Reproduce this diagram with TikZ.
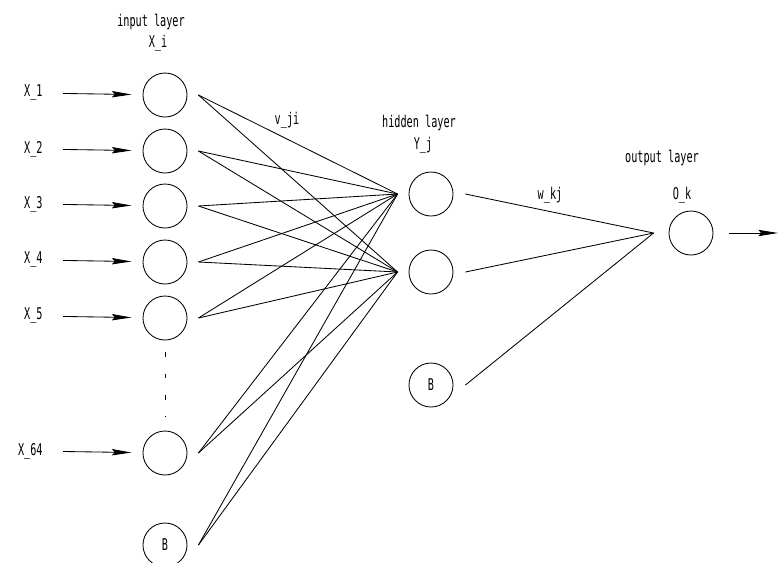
\documentclass[tikz,border=0pt]{standalone}
\usepackage{fontspec}
\newfontfamily\cadfont[FakeStretch=0.63]{DejaVu Sans Mono}
\usetikzlibrary{arrows.meta}

\begin{document}
\begin{tikzpicture}[x=0.025cm, y=-0.025cm, >={Stealth[length=14pt, width=4.5pt, inset=2pt]}, line width=0.6pt, neuron/.style={circle, draw, minimum size=1.1cm, inner sep=0pt, font=\cadfont\fontsize{11.5}{13}\selectfont}, tag/.style={font=\cadfont\fontsize{11.5}{13}\selectfont, inner sep=0pt}]
	\useasboundingbox (0,0) rectangle (778,562);
	% input layer
	\node[neuron] (I1) at (165,95) {};
	\node[neuron] (I2) at (165,151) {};
	\node[neuron] (I3) at (165,206) {};
	\node[neuron] (I4) at (165,262) {};
	\node[neuron] (I5) at (165,318) {};
	\node[neuron] (I64) at (165,453) {};
	\node[neuron] (IB) at (165,545) {B};
	% hidden layer
	\node[neuron] (H1) at (431,194) {};
	\node[neuron] (H2) at (431,272) {};
	\node[neuron] (HB) at (431,385) {B};
	% output layer
	\node[neuron] (O) at (691,233) {};
	% texts
	\node[tag] (inlayer) at (151,22) {input layer};
	\node[tag] (Xi) at (158,43) {X\_i};
	\node[tag] (vji) at (287,120) {v\_ji};
	\node[tag] (hidlayer) at (419,123) {hidden layer};
	\node[tag] (Yj) at (423,145) {Y\_j};
	\node[tag] (wkj) at (550,195) {w\_kj};
	\node[tag] (outlayer) at (662,158) {output layer};
	\node[tag] (Ok) at (682,195) {O\_k};
	\node[tag, anchor=east] (x1) at (43,93) {X\_1};
	\node[tag, anchor=east] (x2) at (43,149) {X\_2};
	\node[tag, anchor=east] (x3) at (43,204) {X\_3};
	\node[tag, anchor=east] (x4) at (43,260) {X\_4};
	\node[tag, anchor=east] (x5) at (43,316) {X\_5};
	\node[tag, anchor=east] (x64) at (43,451) {X\_64};
	% ends of the weight lines
	\coordinate (I1o) at ([xshift=0.275cm]I1.east);
	\coordinate (I2o) at ([xshift=0.275cm]I2.east);
	\coordinate (I3o) at ([xshift=0.275cm]I3.east);
	\coordinate (I4o) at ([xshift=0.275cm]I4.east);
	\coordinate (I5o) at ([xshift=0.275cm]I5.east);
	\coordinate (I64o) at ([xshift=0.275cm]I64.east);
	\coordinate (IBo) at ([xshift=0.275cm]IB.east);
	\coordinate (H1i) at ([xshift=-0.275cm]H1.west);
	\coordinate (H2i) at ([xshift=-0.275cm]H2.west);
	\coordinate (H1o) at ([xshift=0.3cm]H1.east);
	\coordinate (H2o) at ([xshift=0.3cm]H2.east);
	\coordinate (HBo) at ([xshift=0.3cm]HB.east);
	\coordinate (Oi) at ([xshift=-0.375cm]O.west);
	\coordinate (Oout) at (778,233);
	% weights
	\path
		(I1o) edge (H1i) edge (H2i)
		(I2o) edge (H1i) edge (H2i)
		(I3o) edge (H1i) edge (H2i)
		(I4o) edge (H1i) edge (H2i)
		(I5o) edge (H1i) edge (H2i)
		(I64o) edge (H1i) edge (H2i)
		(IBo) edge (H1i) edge (H2i)
		(H1o) edge (Oi)
		(H2o) edge (Oi)
		(HBo) edge (Oi);
	% inputs and output
	\path[->, shorten <=0.5cm, shorten >=0.275cm]
		(x1) edge (I1)
		(x2) edge (I2)
		(x3) edge (I3)
		(x4) edge (I4)
		(x5) edge (I5)
		(x64) edge (I64);
	\draw[->, shorten <=0.4cm] (O) -- (Oout);
	\draw[dash pattern=on 3.5pt off 11.5pt, shorten <=0.3cm, shorten >=0.35cm] (I5) -- (I64);
\end{tikzpicture}
\end{document}
